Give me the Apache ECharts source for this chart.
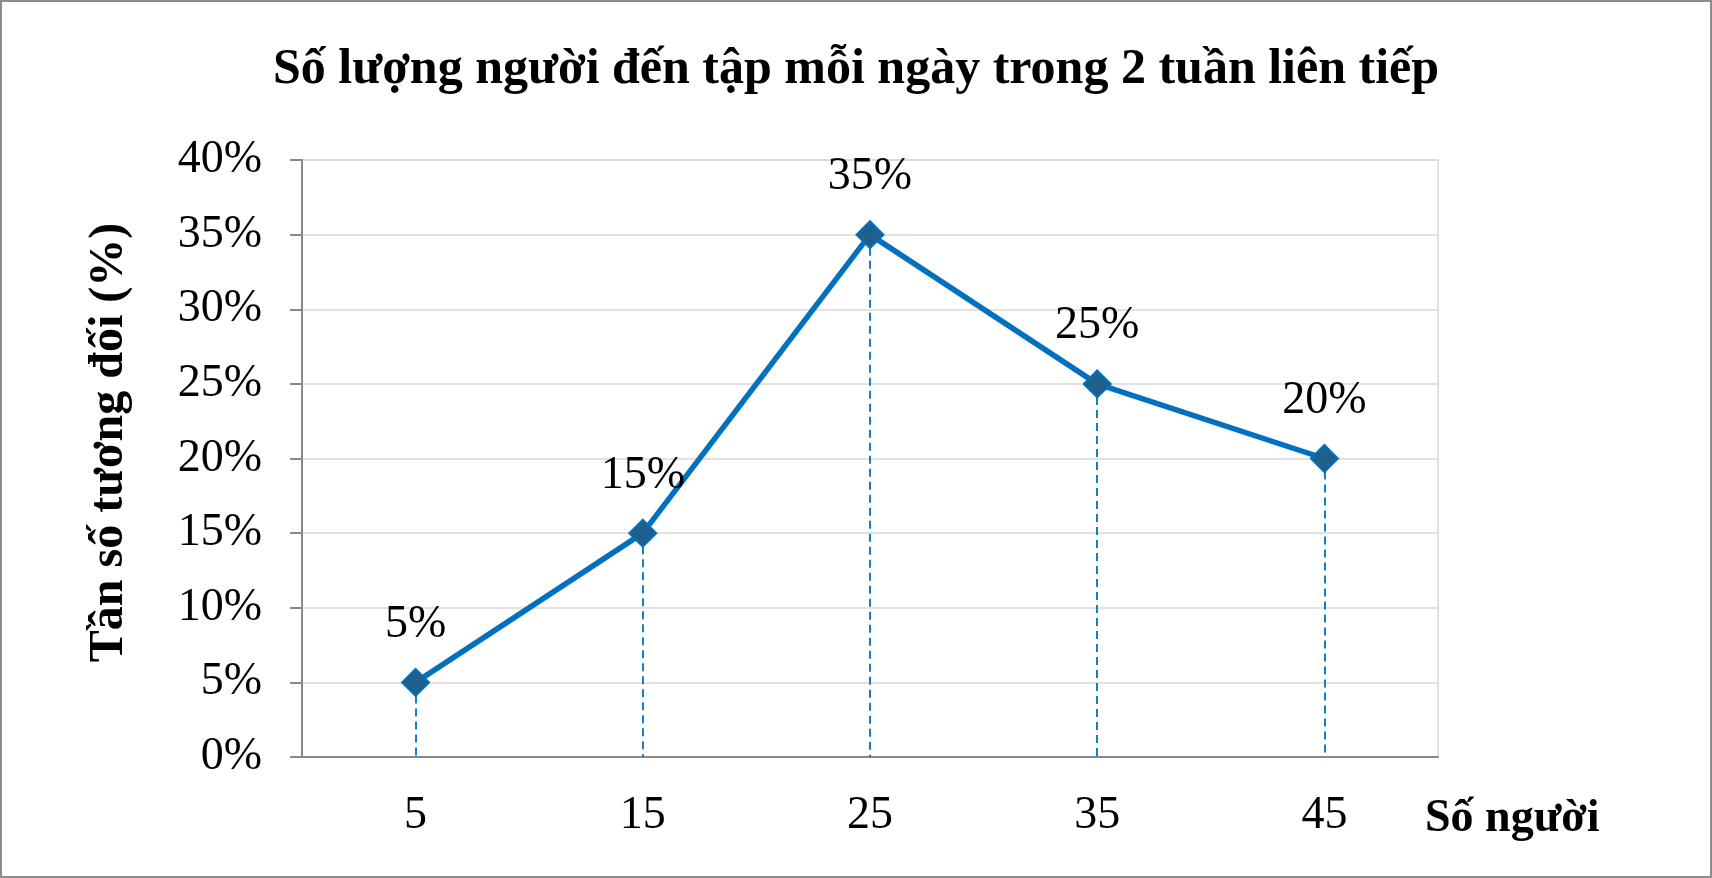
<!DOCTYPE html>
<html>
<head>
<meta charset="utf-8">
<script src="https://cdn.jsdelivr.net/npm/echarts@6/dist/echarts.min.js"></script>
<style>
    html, body { margin: 0; padding: 0; background: #fff; }
    #chart { width: 1712px; height: 878px; }
</style>
</head>
<body>
<div id="chart"></div>
<script>
    // data
    var soNguoi = ['5', '15', '25', '35', '45'];
    var tanSo = [5, 15, 35, 25, 20];
    var yTicks = [0, 5, 10, 15, 20, 25, 30, 35, 40];

    var serif = 'Liberation Serif';
    var blue = '#0070C0';

    // vertical dashed drop lines, one per point
    var dropLines = tanSo.map(function (v, i) {
        return [{ coord: [i, v] }, { coord: [i, 0] }];
    });

    var chart = echarts.init(document.getElementById('chart'));
    chart.setOption({
        backgroundColor: '#fff',
        animation: false,
        title: {
            text: 'Số lượng người đến tập mỗi ngày trong 2 tuần liên tiếp',
            left: 'center',
            top: 40,
            textStyle: { fontFamily: serif, fontWeight: 'bold', fontSize: 50, color: '#000' }
        },
        graphic: [{
            type: 'rect',
            shape: { x: 1, y: 1, width: 1710, height: 876 },
            style: { fill: 'none', stroke: '#8c8c8c', lineWidth: 2 },
            silent: true
        }, {
            // x axis title, sits below the axis end like in the original
            type: 'text',
            left: 1425,
            top: 796,
            style: {
                text: 'Số người',
                font: 'bold 46px "Liberation Serif"',
                fill: '#000'
            },
            silent: true
        }],
        grid: {
            left: 302, right: 274, top: 160, bottom: 121,
            show: true, borderColor: '#D9D9D9', borderWidth: 1.5
        },
        xAxis: {
            type: 'category',
            data: soNguoi,
            boundaryGap: true,
            axisLine: { lineStyle: { color: '#898989', width: 2 } },
            axisTick: { show: false },
            axisLabel: { margin: 36, fontFamily: serif, fontSize: 46, color: '#000' },
            splitLine: { show: false }
        },
        yAxis: {
            type: 'value',
            min: 0, max: 40, interval: 5,
            name: 'Tần số tương đối (%)',
            nameLocation: 'middle',
            nameRotate: 90,
            nameGap: 168,
            nameTextStyle: { fontFamily: serif, fontWeight: 'bold', fontSize: 48, color: '#000', padding: [0, 0, 0, 32] },
            axisLine: { show: true, lineStyle: { color: '#898989', width: 2 } },
            axisTick: { show: true, length: 12, lineStyle: { color: '#898989', width: 2 } },
            axisLabel: {
                margin: 40, fontFamily: serif, fontSize: 46, color: '#000',
                formatter: function (v) { return yTicks.indexOf(v) >= 0 ? v + '%' : ''; }
            },
            splitLine: { lineStyle: { color: '#D9D9D9', width: 1.5 } }
        },
        series: [{
            type: 'line',
            data: tanSo,
            symbol: 'diamond',
            symbolSize: 27,
            lineStyle: { color: blue, width: 5.5 },
            itemStyle: { color: '#1F5F8C', borderColor: blue, borderWidth: 2 },
            label: {
                show: true, position: 'top', distance: 20,
                fontFamily: serif, fontSize: 46, color: '#000',
                formatter: '{c}%'
            },
            markLine: {
                silent: true,
                symbol: 'none',
                label: { show: false },
                lineStyle: { color: blue, width: 1.8, type: [8, 5] },
                data: dropLines,
                z: 1
            },
            z: 3
        }]
    });
</script>
</body>
</html>
